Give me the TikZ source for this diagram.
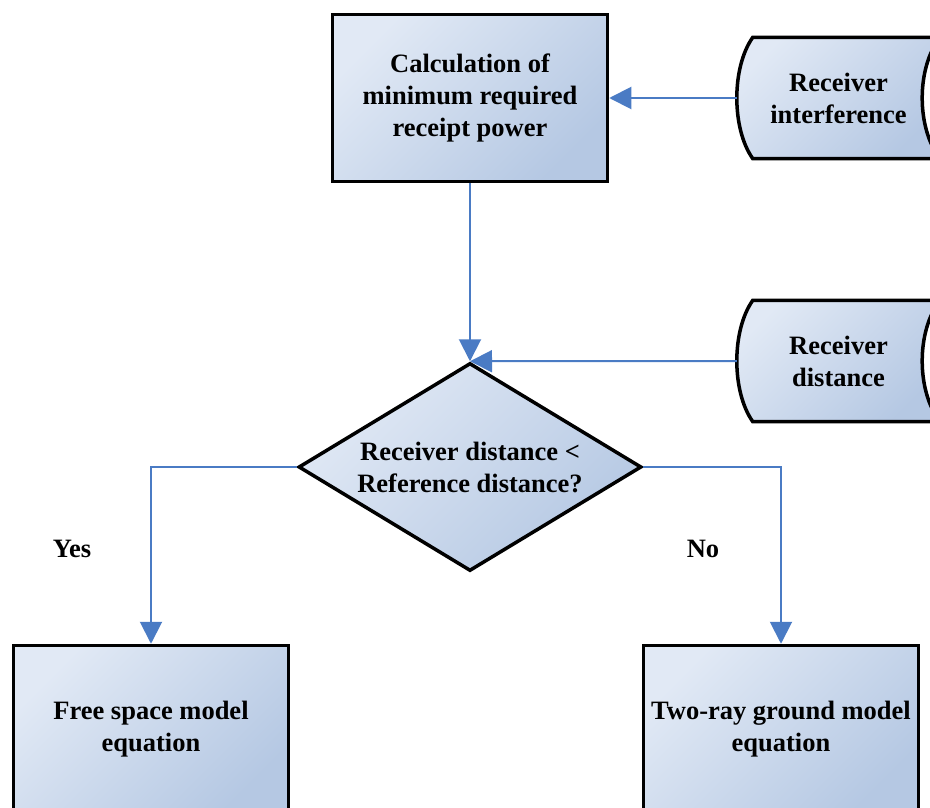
\documentclass[tikz,border=0pt]{standalone}
\usepackage{fontspec}
\setmainfont{Liberation Serif}
\usetikzlibrary{shapes.geometric,arrows.meta,calc,backgrounds}
\definecolor{lightfill}{HTML}{E1E9F5}
\definecolor{darkfill}{HTML}{B5C8E3}
\definecolor{arrowblue}{HTML}{4A7BC4}
\begin{document}
\begin{tikzpicture}[x=1pt,y=-1pt,
  fillgrad/.style={top color=lightfill,bottom color=darkfill,shading angle=45},
  txt/.style={font=\fontsize{26.5}{32}\selectfont\bfseries,align=center,inner sep=0pt},
  procbox/.style={txt,draw=black,line width=3.5pt,fillgrad,minimum width=275,minimum height=167},
  decbox/.style={txt,shape=diamond,aspect=1.65,draw=black,line width=3.5pt,fillgrad,minimum width=343,minimum height=208},
  storebox/.style={txt,minimum width=203,minimum height=121},
  storeshape/.style={draw=black,line width=3.5pt,fillgrad},
  lbl/.style={font=\fontsize{26.5}{32}\selectfont\bfseries,inner sep=0pt},
  arr/.style={draw=arrowblue,line width=2pt,-{Triangle[length=22pt,width=22pt]}}]
\useasboundingbox (0,0) rectangle (930,808);

\node[procbox] (calc) at (470,98) {Calculation of\\minimum required\\receipt power};
\node[storebox] (recint) at (838.5,98) {Receiver\\interference};
\node[storebox] (recdist) at (838.5,361) {Receiver\\distance};
\node[decbox] (dec) at (470,467) {Receiver distance <\\Reference distance?};
\node[procbox] (free) at (151,729) {Free space model\\equation};
\node[procbox] (two) at (781,729) {Two-ray ground model\\equation};
\node[lbl] (yes) at (72,549) {Yes};
\node[lbl] (no) at (703,549) {No};

\begin{scope}[on background layer]
\foreach \n in {recint,recdist}{
  \shadedraw[storeshape] ($(\n.north west)+(16,0)$) -- (\n.north east)
    .. controls ($(\n.north east)+(-24,30)$) and ($(\n.south east)+(-24,-30)$) .. (\n.south east)
    -- ($(\n.south west)+(16,0)$)
    .. controls ($(\n.south west)+(-5.33,-30)$) and ($(\n.north west)+(-5.33,30)$) .. ($(\n.north west)+(16,0)$) -- cycle;
}
\end{scope}

\draw[arr] (recint.west) -- (calc.east);
\draw[arr] (calc.south) -- (dec.north);
\draw[arr] (recdist.west) -- (dec.north);
\draw[arr] (dec.west) -| (free.north);
\draw[arr] (dec.east) -| (two.north);
\end{tikzpicture}
\end{document}
